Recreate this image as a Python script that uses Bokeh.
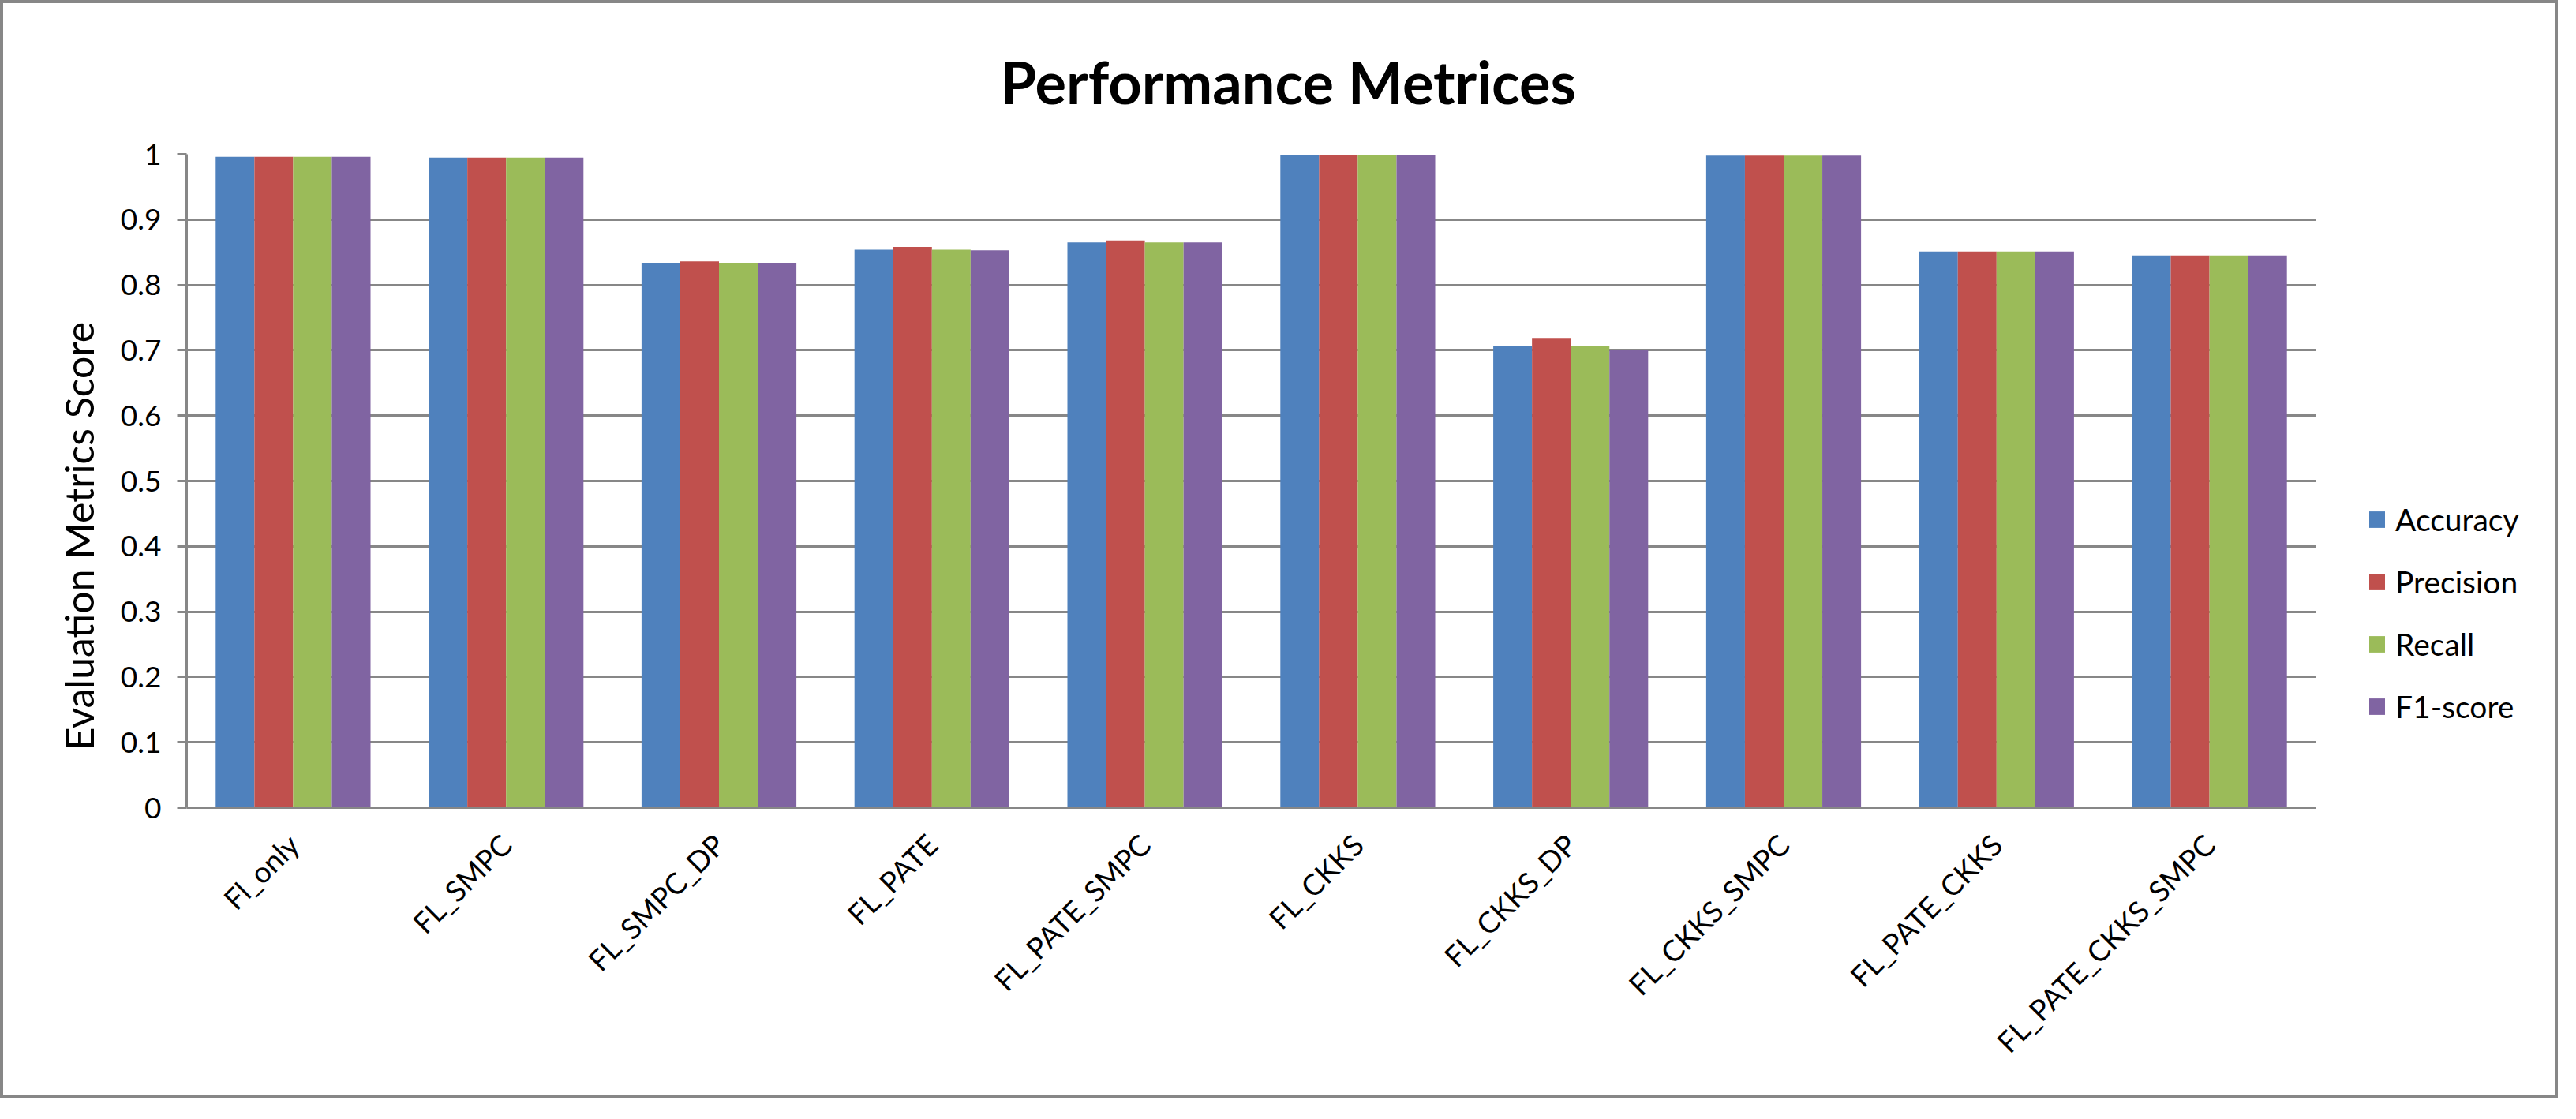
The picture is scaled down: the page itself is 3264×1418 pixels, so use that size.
import math
from bokeh.plotting import figure
from bokeh.layouts import row
from bokeh.models import (ColumnDataSource, FactorRange, Range1d, Legend, LegendItem,
                          FixedTicker, NumeralTickFormatter, Title)
from bokeh.transform import dodge
from bokeh.embed import file_html
from bokeh.resources import INLINE

# ---------------- data ----------------
categories = ["Fl_only", "FL_SMPC", "FL_SMPC_DP", "FL_PATE", "FL_PATE_SMPC",
              "FL_CKKS", "FL_CKKS_DP", "FL_CKKS_SMPC", "FL_PATE_CKKS", "FL_PATE_CKKS_SMPC"]
accuracy  = [0.996, 0.995, 0.834, 0.854, 0.865, 0.999, 0.706, 0.998, 0.851, 0.845]
precision = [0.996, 0.995, 0.836, 0.858, 0.868, 0.999, 0.719, 0.998, 0.851, 0.845]
recall    = [0.996, 0.995, 0.834, 0.854, 0.865, 0.999, 0.706, 0.998, 0.851, 0.845]
f1_score  = [0.996, 0.995, 0.834, 0.853, 0.865, 0.999, 0.700, 0.998, 0.851, 0.845]
series_names = ["Accuracy", "Precision", "Recall", "F1-score"]
series_colors = ["#4F81BD", "#C0504D", "#9BBB59", "#8064A2"]
y_ticks = [0, 0.1, 0.2, 0.3, 0.4, 0.5, 0.6, 0.7, 0.8, 0.9, 1.0]
title_text = "Performance Metrices"
y_label = "Evaluation Metrics  Score"

src = ColumnDataSource(dict(cat=categories, Accuracy=accuracy, Precision=precision,
                            Recall=recall, F1=f1_score))
cols = ["Accuracy", "Precision", "Recall", "F1"]

GRAY = "#878787"
FONT = "Lato"
BORDER = "4px solid " + GRAY

# ---------------- main chart ----------------
W1, W2, H = 2952, 289, 1392
p = figure(x_range=FactorRange(*categories, range_padding=0, factor_padding=0),
           y_range=Range1d(0, 1), width=W1, height=H,
           output_backend="svg", toolbar_location=None,
           min_border_left=232, min_border_right=22,
           min_border_top=191, min_border_bottom=373)
p.styles = {"border-left": BORDER, "border-top": BORDER, "border-bottom": BORDER}
p.outline_line_color = None
p.background_fill_color = "white"
p.border_fill_color = "white"

# title
p.title.text = title_text
p.title.text_font = FONT
p.title.text_font_style = "bold"
p.title.text_font_size = "74px"
p.title.text_color = "black"
p.title.align = "left"
p.title.offset = 1031
p.title.standoff = 95

bar_w = 1 / 5.5
offsets = [-1.5 * bar_w, -0.5 * bar_w, 0.5 * bar_w, 1.5 * bar_w]
for col, off, color in zip(cols, offsets, series_colors):
    p.vbar(x=dodge("cat", off, range=p.x_range), top=col, width=bar_w,
           source=src, fill_color=color, line_color=None)

# grid
p.xgrid.grid_line_color = None
p.ygrid.grid_line_color = GRAY
p.ygrid.grid_line_width = 3

# y axis
p.yaxis.ticker = FixedTicker(ticks=y_ticks)
p.yaxis.formatter = NumeralTickFormatter(format="0.[0]")
p.yaxis.axis_line_color = GRAY
p.yaxis.axis_line_width = 3
p.yaxis.major_tick_line_color = GRAY
p.yaxis.major_tick_line_width = 3
p.yaxis.major_tick_out = 12
p.yaxis.major_tick_in = 0
p.yaxis.minor_tick_line_color = None
p.yaxis.major_label_text_font = FONT
p.yaxis.major_label_text_font_size = "37px"
p.yaxis.major_label_text_color = "black"
p.yaxis.major_label_standoff = 20

# y-axis title (placed as a side title so it can sit where the original has it)
p.add_layout(Title(text=y_label, align="left", offset=73, standoff=40,
                   text_font=FONT, text_font_size="50px", text_font_style="normal",
                   text_color="black"), "left")

# x axis
p.xaxis.axis_line_color = GRAY
p.xaxis.axis_line_width = 3
p.xaxis.major_tick_line_color = None
p.xaxis.minor_tick_line_color = None
p.xaxis.major_tick_out = 0
p.xaxis.major_tick_in = 0
p.xaxis.major_label_orientation = math.pi / 4
p.xaxis.major_label_text_font = FONT
p.xaxis.major_label_text_font_size = "37px"
p.xaxis.major_label_text_color = "black"
p.xaxis.major_label_standoff = 40

# ---------------- legend panel ----------------
q = figure(width=W2, height=H, x_range=Range1d(0, 1), y_range=Range1d(0, 1),
           output_backend="svg", toolbar_location=None,
           min_border_left=0, min_border_right=0, min_border_top=0, min_border_bottom=0)
q.styles = {"border-right": BORDER, "border-top": BORDER, "border-bottom": BORDER}
q.axis.visible = False
q.grid.visible = False
q.outline_line_color = None
q.background_fill_color = "white"
q.border_fill_color = "white"
# zero-size proxies that only carry the legend swatch colours
leg_renderers = [q.vbar(x=[0], top=[0], width=0, fill_color=c, line_color=None)
                 for c in series_colors]
legend = Legend(items=[LegendItem(label=n, renderers=[r]) for n, r in zip(series_names, leg_renderers)],
                location=(47, 105), orientation="vertical",
                label_text_font=FONT, label_text_font_size="39px", label_text_color="black",
                glyph_width=25, glyph_height=26, label_standoff=11, label_height=47,
                spacing=32, padding=0, margin=0, border_line_color=None,
                background_fill_alpha=0)
q.add_layout(legend, "center")

layout = row(p, q, spacing=0)
open("out.html", "w").write(file_html(layout, INLINE))
